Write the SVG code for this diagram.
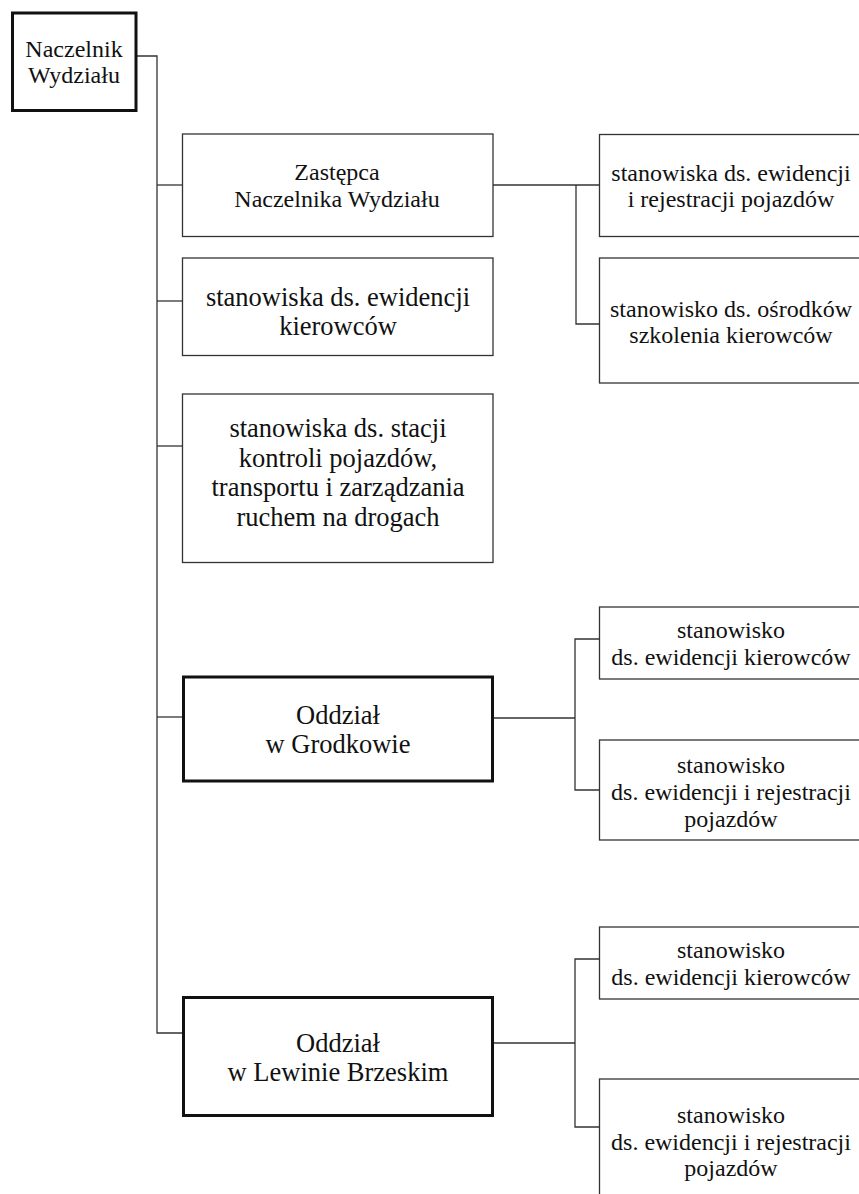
<svg xmlns="http://www.w3.org/2000/svg" width="859" height="1194" viewBox="0 0 859 1194">
<style>
.bg{fill:#fff}
.thin{fill:#fff;stroke:#333;stroke-width:1.3}
.thick{fill:#fff;stroke:#111;stroke-width:3}
.conn{fill:none;stroke:#333;stroke-width:1.3}
text{font-family:"Liberation Serif","Times New Roman",serif;fill:#111;text-anchor:middle}
.f24{font-size:24px}
.f26{font-size:26.5px}
</style>
<rect class="bg" x="0" y="0" width="859" height="1194"/>
<g id="connectors">
<path class="conn" d="M137 56 H157 V1033 H182"/>
<path class="conn" d="M157 185 H182"/>
<path class="conn" d="M157 301 H182"/>
<path class="conn" d="M157 446 H182"/>
<path class="conn" d="M157 717 H182"/>
<path class="conn" d="M493 185 H599"/>
<path class="conn" d="M576 185 V324 H599"/>
<path class="conn" d="M493 718 H575"/>
<path class="conn" d="M599 639 H575 V790 H599"/>
<path class="conn" d="M493 1043 H575"/>
<path class="conn" d="M599 959 H575 V1127 H599"/>
</g>
<g id="naczelnik">
<rect class="thick" x="12.5" y="13" width="123.5" height="97.5"/>
<text class="f24" x="74" y="57">Naczelnik</text>
<text class="f24" x="74" y="83">Wydziału</text>
</g>
<g id="zastepca">
<rect class="thin" x="182.5" y="134" width="310.5" height="102.5"/>
<text class="f24" x="337" y="180">Zastępca</text>
<text class="f24" x="337" y="207">Naczelnika Wydziału</text>
</g>
<g id="ewidencja-kierowcow">
<rect class="thin" x="182.5" y="258" width="310.5" height="97.5"/>
<text class="f26" x="338" y="306">stanowiska ds. ewidencji</text>
<text class="f26" x="338" y="335">kierowców</text>
</g>
<g id="stacje-kontroli">
<rect class="thin" x="182.5" y="394" width="310.5" height="168.5"/>
<text class="f26" x="338" y="437">stanowiska ds. stacji</text>
<text class="f26" x="338" y="466.5">kontroli pojazdów,</text>
<text class="f26" x="338" y="496">transportu i zarządzania</text>
<text class="f26" x="338" y="525.5">ruchem na drogach</text>
</g>
<g id="rejestracja-pojazdow">
<rect class="thin" x="599.5" y="134.5" width="265" height="102"/>
<text class="f24" x="731" y="181">stanowiska ds. ewidencji</text>
<text class="f24" x="731" y="207">i rejestracji pojazdów</text>
</g>
<g id="osrodki-szkolenia">
<rect class="thin" x="599.5" y="258" width="265" height="125"/>
<text class="f24" x="731" y="317">stanowisko ds. ośrodków</text>
<text class="f24" x="731" y="343">szkolenia kierowców</text>
</g>
<g id="oddzial-grodkow">
<rect class="thick" x="183.5" y="677" width="309" height="104"/>
<text class="f26" x="338" y="724.3">Oddział</text>
<text class="f26" x="338" y="753.3">w Grodkowie</text>
</g>
<g id="grodkow-kierowcy">
<rect class="thin" x="599.5" y="607" width="265" height="72"/>
<text class="f24" x="731" y="638">stanowisko</text>
<text class="f24" x="731" y="665">ds. ewidencji kierowców</text>
</g>
<g id="grodkow-pojazdy">
<rect class="thin" x="599.5" y="740" width="265" height="100"/>
<text class="f24" x="731" y="773">stanowisko</text>
<text class="f24" x="731" y="800">ds. ewidencji i rejestracji</text>
<text class="f24" x="731" y="826.5">pojazdów</text>
</g>
<g id="oddzial-lewin">
<rect class="thick" x="183.5" y="997.5" width="309" height="118"/>
<text class="f26" x="338" y="1051.7">Oddział</text>
<text class="f26" x="338" y="1081">w Lewinie Brzeskim</text>
</g>
<g id="lewin-kierowcy">
<rect class="thin" x="599.5" y="927" width="265" height="72"/>
<text class="f24" x="731" y="958">stanowisko</text>
<text class="f24" x="731" y="985">ds. ewidencji kierowców</text>
</g>
<g id="lewin-pojazdy">
<rect class="thin" x="599.5" y="1079" width="265" height="150"/>
<text class="f24" x="731" y="1123">stanowisko</text>
<text class="f24" x="731" y="1150">ds. ewidencji i rejestracji</text>
<text class="f24" x="731" y="1176">pojazdów</text>
</g>
</svg>
